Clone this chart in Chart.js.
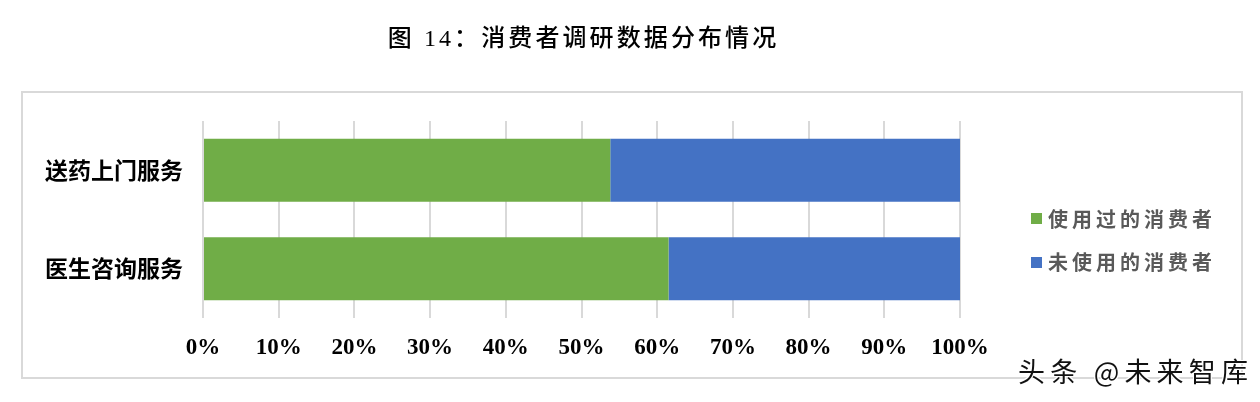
<!DOCTYPE html>
<html>
<head>
<meta charset="utf-8">
<script src="https://cdn.jsdelivr.net/npm/chart.js@4.4.1/dist/chart.umd.min.js"></script>
<style>
  html, body { margin: 0; padding: 0; background: #ffffff; }
  #wrap { position: relative; width: 1260px; height: 402px; overflow: hidden; background: #fff; }
  #frame { position: absolute; left: 21px; top: 91px; width: 1218px; height: 284px; border: 2px solid #d9d9d9; }
  #chart { position: absolute; left: 0; top: 0; }
  #title { position: absolute; left: 0; width: 1167px; top: 21px; text-align: center;
    font-family: "Liberation Serif", "Noto Sans CJK SC", serif; font-size: 24px; font-weight: 500; line-height: 34px;
    letter-spacing: 3.1px; color: #000; }
  #legend { position: absolute; left: 1031px; top: 197px; }
  .lg-item { position: relative; height: 43.5px; display: flex; align-items: center; }
  .lg-box { width: 11px; height: 11px; margin-right: 6px; }
  .lg-text { font-family: "Noto Sans CJK SC", sans-serif; font-weight: bold; font-size: 20px; letter-spacing: 4px; color: #595959; line-height: 30px; }
  #mark { position: absolute; left: 1018px; top: 352px; font-family: "Noto Sans CJK SC", sans-serif; font-size: 27px;
    letter-spacing: 5.2px; color: #111; line-height: 38px;
    text-shadow: 1px 1px 0 #fff, -1px -1px 0 #fff, 1px -1px 0 #fff, -1px 1px 0 #fff; }
</style>
</head>
<body>
<div id="wrap">
  <div id="frame"></div>
  <canvas id="chart" width="1260" height="402"></canvas>
  <div id="title">图 14：消费者调研数据分布情况</div>
  <div id="legend"></div>
  <div id="mark">头条 @未来智库</div>
</div>
<script>
const categories = ['送药上门服务', '医生咨询服务'];
const seriesNames = ['使用过的消费者', '未使用的消费者'];
const usedValues = [53.8, 61.5];
const unusedValues = [46.2, 38.5];
const xTickLabels = ['0%', '10%', '20%', '30%', '40%', '50%', '60%', '70%', '80%', '90%', '100%'];
const seriesColors = ['#70AD47', '#4472C4'];

const seriesValues = [usedValues, unusedValues];

const datasets = seriesNames.map((name, i) => ({
  label: name,
  data: seriesValues[i],
  backgroundColor: seriesColors[i],
  borderWidth: 0,
  barPercentage: 0.8,
  categoryPercentage: 0.8
}));

// HTML legend built from series names and colours
const legendEl = document.getElementById('legend');
seriesNames.forEach((name, i) => {
  const item = document.createElement('div');
  item.className = 'lg-item';
  const box = document.createElement('div');
  box.className = 'lg-box';
  box.style.background = seriesColors[i];
  const txt = document.createElement('span');
  txt.className = 'lg-text';
  txt.textContent = name;
  item.appendChild(box);
  item.appendChild(txt);
  legendEl.appendChild(item);
});

new Chart(document.getElementById('chart'), {
  type: 'bar',
  data: { labels: categories, datasets: datasets },
  options: {
    indexAxis: 'y',
    responsive: false,
    animation: false,
    devicePixelRatio: 1,
    layout: { padding: { left: 0, top: 121, right: 300, bottom: 30 } },
    plugins: {
      legend: { display: false },
      title: { display: false },
      tooltip: { enabled: false }
    },
    scales: {
      x: {
        stacked: true,
        min: 0,
        max: 100,
        ticks: {
          stepSize: 10,
          padding: 16,
          color: '#000',
          font: { family: '"Liberation Serif", "Times New Roman", serif', size: 23, weight: 'bold' },
          callback: (value, index) => xTickLabels[index]
        },
        grid: { color: '#d9d9d9', lineWidth: 2, drawTicks: false },
        border: { display: false },
        afterFit: (scale) => { scale.height = 54; }
      },
      y: {
        stacked: true,
        ticks: {
          padding: 20,
          color: '#000',
          font: { family: '"Noto Sans CJK SC", sans-serif', size: 23, weight: 'bold' }
        },
        grid: { display: false, drawTicks: false },
        border: { display: false },
        afterFit: (scale) => { scale.width = 203; }
      }
    }
  }
});
</script>
</body>
</html>
